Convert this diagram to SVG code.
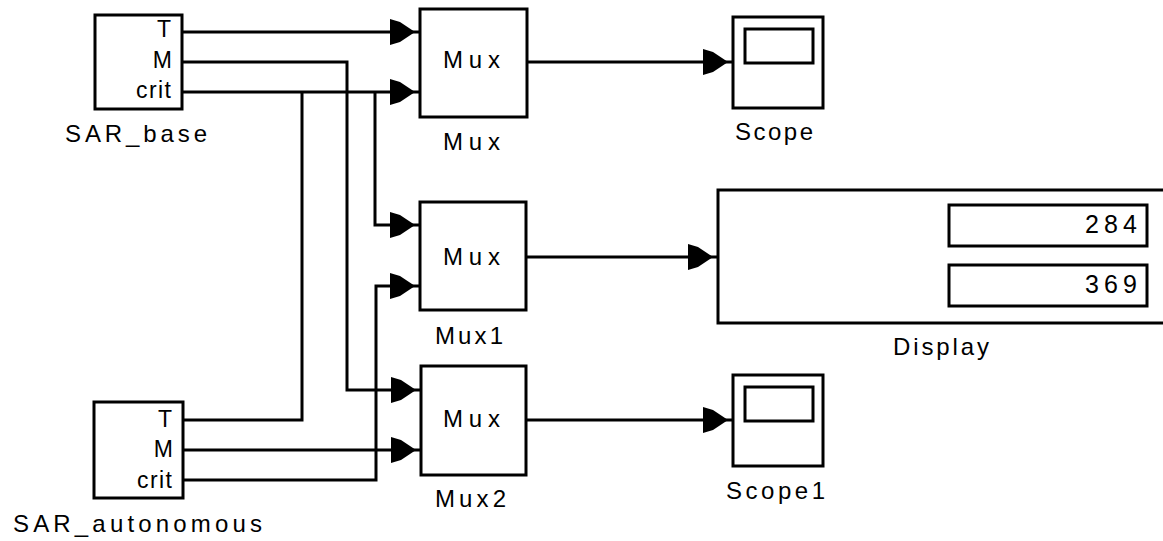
<svg xmlns="http://www.w3.org/2000/svg" width="1163" height="541" viewBox="0 0 1163 541">
<style>
.blk{fill:#fff;stroke:#000;stroke-width:3}
.ln{fill:none;stroke:#000;stroke-width:3;stroke-linejoin:miter}
.ar{marker-end:url(#arr)}
text{font-family:"Liberation Sans",Arial,sans-serif;fill:#000}
.lbl{font-size:24px}
.port{font-size:23px;text-anchor:end}
.num{font-size:25px}
</style>
<defs>
<marker id="arr" markerUnits="userSpaceOnUse" markerWidth="32" markerHeight="28" viewBox="0 0 32 28" refX="31" refY="14" orient="auto">
<path d="M1,1 L11,4 L26,14 L11,24 L1,27 Z" fill="#000"/>
</marker>
</defs>
<rect width="1163" height="541" fill="#fff"/>

<g id="connectors">
<path class="ln ar" d="M183,32 H420"/>
<path class="ln ar" d="M183,62 H347 V390 H421"/>
<path class="ln ar" d="M183,92 H420"/>
<path class="ln ar" d="M375,92 V225 H420"/>
<path class="ln" d="M302,92 V420 H183"/>
<path class="ln ar" d="M183,450 H421"/>
<path class="ln ar" d="M183,480 H376 V286 H420"/>
<path class="ln ar" d="M527,62 H733"/>
<path class="ln ar" d="M526,257 H718"/>
<path class="ln ar" d="M526,420 H733"/>
</g>

<g id="SAR_base">
<rect class="blk" x="95" y="15" width="87" height="94"/>
<text class="port" x="171" y="37">T</text>
<text class="port" x="172" y="68">M</text>
<text class="port" x="171" y="98" textLength="35">crit</text>
<text class="lbl" x="65" y="142" textLength="142">SAR_base</text>
</g>

<g id="SAR_autonomous">
<rect class="blk" x="94" y="402" width="89" height="96"/>
<text class="port" x="172" y="427">T</text>
<text class="port" x="173" y="457">M</text>
<text class="port" x="172" y="488" textLength="35">crit</text>
<text class="lbl" x="13" y="532" textLength="249">SAR_autonomous</text>
</g>

<g id="Mux">
<rect class="blk" x="420" y="9" width="107" height="108"/>
<text class="lbl" x="443" y="68" textLength="57">Mux</text>
<text class="lbl" x="443" y="150" textLength="57">Mux</text>
</g>

<g id="Mux1">
<rect class="blk" x="420" y="202" width="106" height="108"/>
<text class="lbl" x="443" y="265" textLength="57">Mux</text>
<text class="lbl" x="435" y="344" textLength="68">Mux1</text>
</g>

<g id="Mux2">
<rect class="blk" x="421" y="366" width="105" height="109"/>
<text class="lbl" x="443" y="427" textLength="57">Mux</text>
<text class="lbl" x="435" y="507" textLength="71">Mux2</text>
</g>

<g id="Scope">
<rect class="blk" x="733" y="17" width="90" height="91"/>
<rect class="blk" x="745" y="29" width="68" height="34"/>
<text class="lbl" x="735" y="140" textLength="78">Scope</text>
</g>

<g id="Scope1">
<rect class="blk" x="733" y="375" width="90" height="91"/>
<rect class="blk" x="745" y="387" width="68" height="34"/>
<text class="lbl" x="726" y="499" textLength="99">Scope1</text>
</g>

<g id="Display">
<rect class="blk" x="718" y="190" width="460" height="133"/>
<rect class="blk" x="949" y="205" width="198" height="41"/>
<rect class="blk" x="949" y="265" width="198" height="41"/>
<text class="num" x="1085" y="233" textLength="52">284</text>
<text class="num" x="1085" y="293" textLength="52">369</text>
<text class="lbl" x="893" y="355" textLength="96">Display</text>
</g>
</svg>
